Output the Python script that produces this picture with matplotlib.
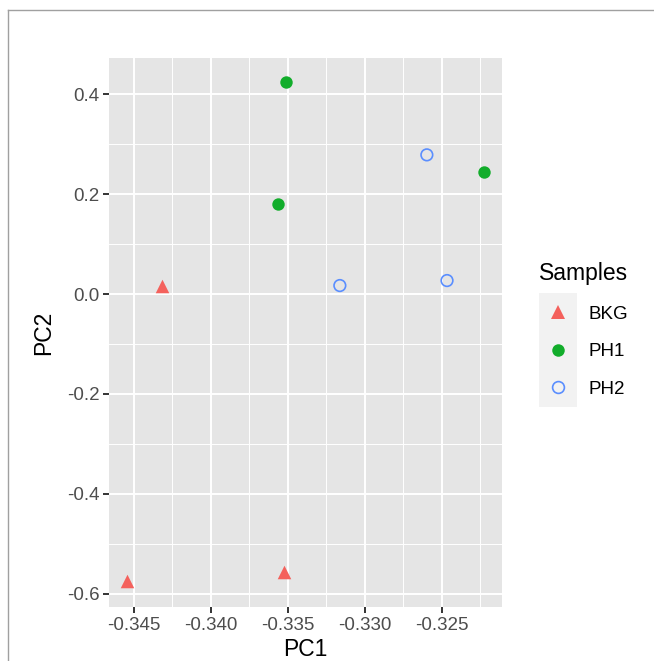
import matplotlib
matplotlib.use("Agg")
import matplotlib.pyplot as plt
from matplotlib.lines import Line2D
import numpy as np

plt.rcParams['font.family'] = ['Liberation Sans', 'DejaVu Sans']

# Data
groups = ["BKG", "PH1", "PH2"]
bkg_pc1 = [-0.34319, -0.34546, -0.33526]
bkg_pc2 = [0.0166, -0.575, -0.557]
ph1_pc1 = [-0.33515, -0.33565, -0.32224]
ph1_pc2 = [0.424, 0.180, 0.244]
ph2_pc1 = [-0.32598, -0.33163, -0.32467]
ph2_pc2 = [0.2786, 0.017, 0.027]
x_ticks = [-0.345, -0.340, -0.335, -0.330, -0.325]
y_ticks = [-0.6, -0.4, -0.2, 0.0, 0.2, 0.4]

RED, GREEN, BLUE = '#F4615C', '#12AD2B', '#5A8EFF'

W, H = 654, 661
fig = plt.figure(figsize=(W / 100, H / 100), dpi=100)
fig.patch.set_facecolor('white')

ax = fig.add_axes([109 / W, 1 - 607 / H, (502 - 109) / W, (607 - 58) / H])
ax.set_facecolor('#E5E5E5')
ax.set_xlim(-0.34662, -0.32110)
ax.set_ylim(-0.6265, 0.4725)

# grid
for x in x_ticks:
    ax.axvline(x, color='white', lw=1.4, zorder=1)
for y in y_ticks:
    ax.axhline(y, color='white', lw=1.4, zorder=1)
xm = [x_ticks[0] - 0.0025] + [x + 0.0025 for x in x_ticks]
ym = [y + 0.1 for y in y_ticks]
for x in xm:
    ax.axvline(x, color='white', lw=0.7, zorder=1)
for y in ym:
    ax.axhline(y, color='white', lw=0.7, zorder=1)

ax.scatter(bkg_pc1, bkg_pc2, marker='^', s=95, color=RED, linewidths=0, zorder=3)
ax.scatter(ph1_pc1, ph1_pc2, marker='o', s=80, color=GREEN, linewidths=0, zorder=3)
ax.scatter(ph2_pc1, ph2_pc2, marker='o', s=70, facecolors='none', edgecolors=BLUE, linewidths=1.2, zorder=3)

ax.set_xticks(x_ticks)
ax.set_xticklabels([f"{v:.3f}" for v in x_ticks])
ax.set_yticks(y_ticks)
ax.set_yticklabels([f"{v:.1f}" for v in y_ticks])
ax.tick_params(axis='both', which='major', length=4, width=1.4, color='#333333',
               labelcolor='#4D4D4D', labelsize=13.5, pad=3)
for s in ax.spines.values():
    s.set_visible(False)

ax.set_xlabel("PC1", fontsize=16.5, color='black', labelpad=3)
ax.set_ylabel("PC2", fontsize=16.5, color='black', labelpad=8)

# Legend
handles = [
    Line2D([], [], marker='^', linestyle='none', markersize=9.5, markerfacecolor=RED, markeredgewidth=0),
    Line2D([], [], marker='o', linestyle='none', markersize=9, markerfacecolor=GREEN, markeredgewidth=0),
    Line2D([], [], marker='o', linestyle='none', markersize=8.5, markerfacecolor='none', markeredgecolor=BLUE, markeredgewidth=1.2),
]
# legend key background
fig.add_artist(plt.Rectangle((539 / W, 1 - 407 / H), 38 / W, 114 / H, transform=fig.transFigure,
                             facecolor='#F2F2F2', edgecolor='none', zorder=0))
leg = fig.legend(handles, groups, title="Samples", loc='upper left',
                 bbox_to_anchor=(519.7 / W, 1 - 242.5 / H), frameon=False,
                 fontsize=13.5, title_fontsize=16.5, handlelength=2.03, handletextpad=0.59,
                 labelspacing=1.09, borderpad=0.55)
leg._legend_box.align = "left"

# outer border lines
fig.add_artist(Line2D([8 / W, 1], [1 - 10 / H, 1 - 10 / H], transform=fig.transFigure, color='#A0A0A0', lw=1.0))
fig.add_artist(Line2D([8 / W, 8 / W], [0, 1 - 10 / H], transform=fig.transFigure, color='#A0A0A0', lw=1.0))

fig.savefig("out.png", dpi=100)
